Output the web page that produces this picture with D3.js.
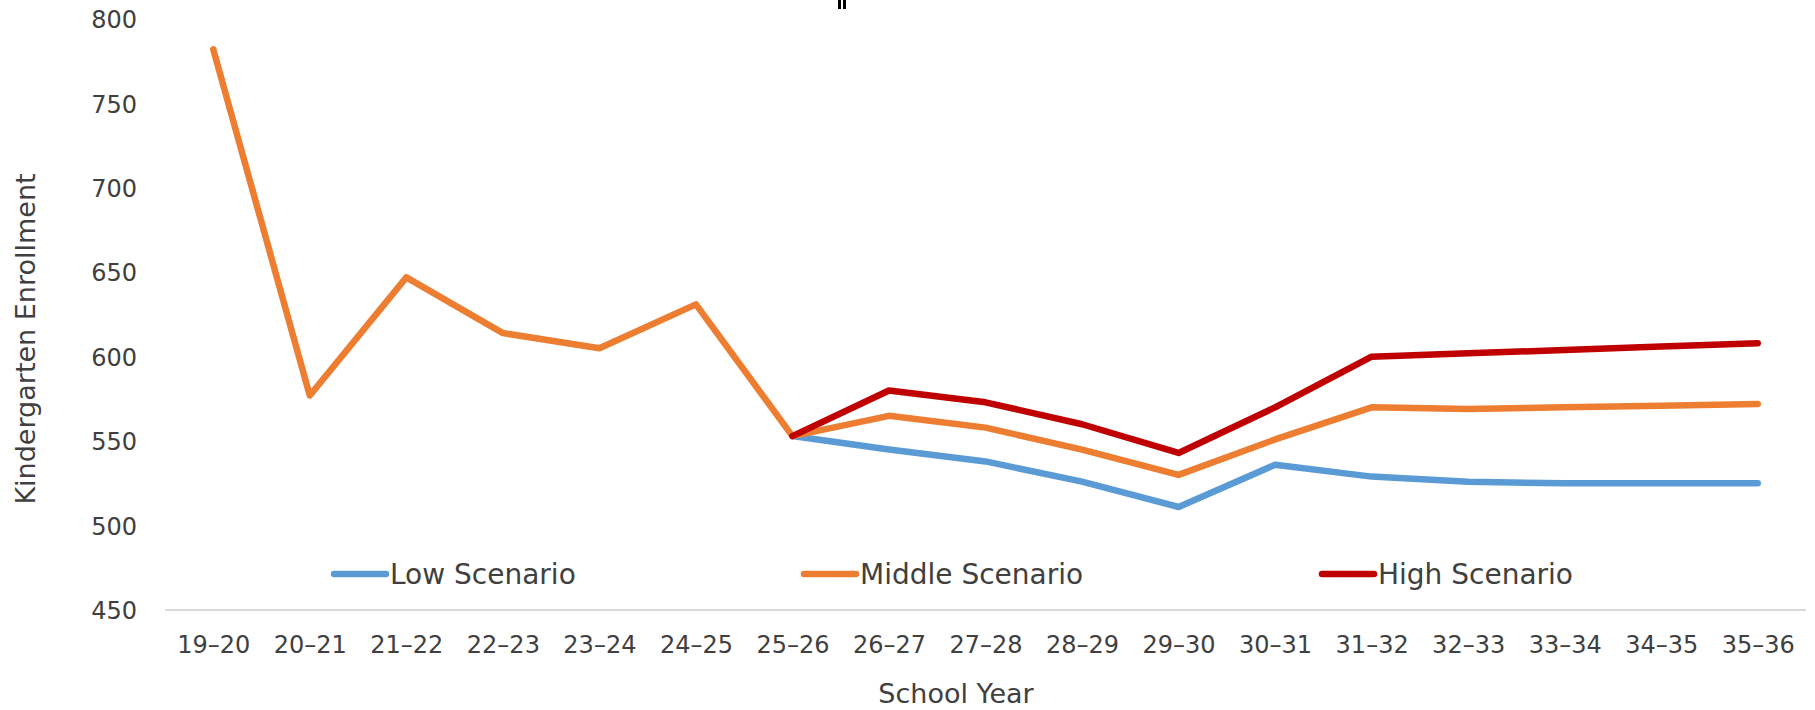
<!DOCTYPE html>
<html>
<head>
<meta charset="utf-8">
<script src="https://cdn.jsdelivr.net/npm/d3@7"></script>
<style>
  html, body { margin: 0; padding: 0; background: #fff; }
  svg { display: block; }
  text { font-family: "DejaVu Sans", "Liberation Sans", sans-serif; fill: #404040; }
</style>
</head>
<body>
<svg id="chart" width="1815" height="710"></svg>
<script>
// School years on the x axis
const schoolYears = ["19–20","20–21","21–22","22–23","23–24","24–25","25–26","26–27","27–28",
                     "28–29","29–30","30–31","31–32","32–33","33–34","34–35","35–36"];

// Kindergarten enrollment: history plus middle projection
const middleScenario = [782, 577, 647, 614, 605, 631, 553, 565, 558, 545, 530, 551, 570, 569, 570, 571, 572];
// Low and high projections start at 25–26
const lowScenario  = [null, null, null, null, null, null, 553, 545, 538, 526, 511, 536, 529, 526, 525, 525, 525];
const highScenario = [null, null, null, null, null, null, 553, 580, 573, 560, 543, 570, 600, 602, 604, 606, 608];

const yTicks = [450, 500, 550, 600, 650, 700, 750, 800];

const seriesNames  = ["Low Scenario", "Middle Scenario", "High Scenario"];
const seriesColors = ["#5b9bd5", "#ed7d31", "#c00000"];

const svg = d3.select("#chart");
const plot = { left: 165, right: 1806, top: 19, bottom: 610 };

const x = d3.scalePoint().domain(schoolYears).range([plot.left, plot.right]).padding(0.5);
const y = d3.scaleLinear().domain([450, 800]).range([plot.bottom, plot.top]);

// Category axis: baseline only, labels below
const xAxis = d3.axisBottom(x).tickSize(0).tickPadding(0);
const gx = svg.append("g").attr("transform", `translate(0,${plot.bottom})`).call(xAxis)
  .attr("font-family", null).attr("font-size", null);
gx.select(".domain").attr("stroke", "#d9d9d9").attr("stroke-width", 2)
  .attr("d", `M${plot.left},0H${plot.right}`);
gx.selectAll("text").attr("y", 35).attr("dy", "0.35em").attr("font-size", 24).attr("fill", "#404040");

// Value axis: labels only
const yAxis = d3.axisLeft(y).tickValues(yTicks).tickSize(0).tickPadding(0);
const gy = svg.append("g").attr("transform", `translate(137,0)`).call(yAxis)
  .attr("font-family", null).attr("font-size", null);
gy.select(".domain").remove();
gy.selectAll("text").attr("font-size", 24).attr("dy", "0.36em").attr("fill", "#404040");

// Axis titles
svg.append("text").attr("x", 956).attr("y", 703).attr("text-anchor", "middle")
  .attr("font-size", 27).text("School Year");
svg.append("text").attr("transform", "translate(35,339) rotate(-90)").attr("text-anchor", "middle")
  .attr("font-size", 27).text("Kindergarten Enrollment");

// Series lines
const line = d3.line()
  .defined(d => d.v != null)
  .x(d => x(d.k))
  .y(d => y(d.v));

const allSeries = [lowScenario, middleScenario, highScenario];
allSeries.forEach((vals, i) => {
  const pts = vals.map((v, j) => ({ k: schoolYears[j], v }));
  svg.append("path")
    .datum(pts)
    .attr("fill", "none")
    .attr("stroke", seriesColors[i])
    .attr("stroke-width", 6.5)
    .attr("stroke-linejoin", "round")
    .attr("stroke-linecap", "round")
    .attr("d", line);
});

// Legend inside the plot area, above the baseline
const legendX = [332, 802, 1320];
const legend = svg.append("g");
seriesNames.forEach((name, i) => {
  const g = legend.append("g").attr("transform", `translate(${legendX[i]},574)`);
  g.append("line").attr("x1", 2).attr("x2", 54).attr("y1", 0).attr("y2", 0)
    .attr("stroke", seriesColors[i]).attr("stroke-width", 6.5).attr("stroke-linecap", "round");
  g.append("text").attr("x", 58).attr("y", 0).attr("dy", "0.36em")
    .attr("font-size", 28).text(name);
});

// Small marker at the top edge
svg.append("rect").attr("x", 838).attr("y", 0).attr("width", 3).attr("height", 9).attr("fill", "#000");
svg.append("rect").attr("x", 843).attr("y", 0).attr("width", 3).attr("height", 9).attr("fill", "#000");
</script>
</body>
</html>
